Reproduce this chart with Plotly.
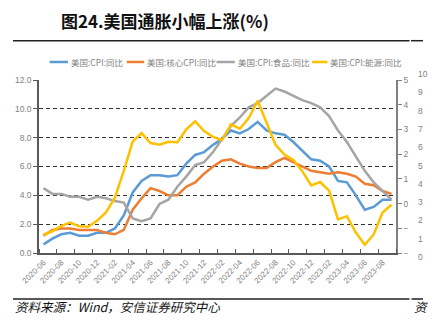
import plotly.graph_objects as go

# Monthly categories, 2020-06 .. 2023-09
months = [f"{y}-{m:02d}" for y, m in
          [(2020, m) for m in range(6, 13)] +
          [(2021, m) for m in range(1, 13)] +
          [(2022, m) for m in range(1, 13)] +
          [(2023, m) for m in range(1, 10)]]

series_names = ["美国:CPI:同比", "美国:核心CPI:同比", "美国:CPI:食品:同比", "美国:CPI:能源:同比"]

cpi = [0.6, 1.0, 1.3, 1.4, 1.2, 1.2, 1.4,
       1.4, 1.7, 2.6, 4.2, 5.0, 5.4, 5.4, 5.3, 5.4, 6.2, 6.8, 7.0,
       7.5, 7.9, 8.5, 8.3, 8.6, 9.1, 8.5, 8.3, 8.2, 7.7, 7.1, 6.5,
       6.4, 6.0, 5.0, 4.9, 4.0, 3.0, 3.2, 3.7, 3.7]
core = [1.2, 1.6, 1.7, 1.7, 1.6, 1.6, 1.6,
        1.4, 1.3, 1.6, 3.0, 3.8, 4.5, 4.3, 4.0, 4.0, 4.6, 4.9, 5.5,
        6.0, 6.4, 6.5, 6.2, 6.0, 5.9, 5.9, 6.3, 6.6, 6.3, 6.0, 5.7,
        5.6, 5.5, 5.6, 5.5, 5.3, 4.8, 4.7, 4.3, 4.1]
food = [4.5, 4.1, 4.1, 3.9, 3.9, 3.7, 3.9,
        3.8, 3.6, 3.5, 2.4, 2.2, 2.4, 3.4, 3.7, 4.6, 5.3, 6.1, 6.3,
        7.0, 7.9, 8.8, 9.4, 10.1, 10.4, 10.9, 11.4, 11.2, 10.9, 10.6, 10.4,
        10.1, 9.5, 8.5, 7.7, 6.7, 5.7, 4.9, 4.3, 3.7]
energy = [-12.6, -11.2, -9.0, -7.7, -9.2, -9.4, -7.0,
          -3.6, 2.4, 13.2, 25.1, 28.5, 24.5, 23.8, 25.0, 24.8, 30.0, 33.3, 29.3,
          27.0, 25.6, 32.0, 30.3, 34.6, 41.6, 32.9, 23.8, 19.8, 17.6, 13.1, 7.3,
          8.7, 5.2, -6.4, -5.1, -11.7, -16.7, -12.5, -3.6, -0.5]

colors = ["#5B9BD5", "#ED7D31", "#A5A5A5", "#FFC000"]

# neighbouring panel's axis labels visible at the right edge
edge_labels = ["10", "9", "8", "7", "6", "5", "4", "3", "2", "1", "0"]

idx = list(range(len(months)))
W, H = 437, 325
L, R, T, B = 39, 409, 80, 253


def px(x):
    return (x - L) / (R - L)


def py(y):
    return (B - y) / (B - T)


fig = go.Figure()
for vals, name, col in zip([cpi, core, food], series_names[:3], colors[:3]):
    fig.add_trace(go.Scatter(x=idx, y=vals, name=name, mode="lines",
                             line=dict(color=col, width=2.5), showlegend=False))
fig.add_trace(go.Scatter(x=idx, y=energy, name=series_names[3], mode="lines",
                         line=dict(color=colors[3], width=2.5), yaxis="y2",
                         showlegend=False))

tick_font = dict(family="Liberation Sans, Arial", size=8.5, color="#7f7f7f")
cjk = "Noto Sans CJK SC"

fig.update_layout(
    width=W, height=H,
    margin=dict(l=L, r=W - R, t=T, b=H - B),
    paper_bgcolor="white", plot_bgcolor="white",
    xaxis=dict(range=[-0.5, len(months) - 0.5],
               tickvals=idx[::2], ticktext=months[::2],
               tickangle=-45, tickfont=dict(family="Liberation Sans, Arial", size=8, color="#7f7f7f"),
               ticks="", showgrid=False, zeroline=False,
               showline=True, linecolor="#595959", linewidth=1.5,
               minor=dict(tick0=-0.5, dtick=2, ticks="inside", ticklen=4,
                          tickcolor="#595959", showgrid=False)),
    yaxis=dict(range=[0, 12], dtick=2, tickformat=".1f", tickfont=tick_font,
               ticks="outside", ticklen=4, tickcolor="#595959",
               showline=True, linecolor="#595959", linewidth=1.5,
               showgrid=True, gridcolor="#333333", gridwidth=1, griddash="4px,3px",
               zeroline=False),
    yaxis2=dict(range=[-20, 50], dtick=10, tickformat=".1f", tickfont=tick_font,
                overlaying="y", side="right", ticks="outside", ticklen=4,
                tickcolor="#808080", showline=True, linecolor="#808080", linewidth=1.5,
                showgrid=False, zeroline=False),
)

shapes = []
annotations = []

# title and rules
annotations.append(dict(text="<b>图24.美国通胀小幅上涨(%)</b>", x=px(60), y=py(20.5),
                        xref="paper", yref="paper", xanchor="left", yanchor="middle",
                        showarrow=False, font=dict(family=cjk, size=17, color="#111111")))
shapes.append(dict(type="line", xref="paper", yref="paper", x0=px(12), x1=px(423),
                   y0=py(40.7), y1=py(40.7), line=dict(color="#222222", width=1.5)))
shapes.append(dict(type="line", xref="paper", yref="paper", x0=px(424.5), x1=px(437),
                   y0=py(40.7), y1=py(40.7), line=dict(color="#222222", width=1.5)))

# legend
legend_pos = [(50, 69, 70), (130, 148, 149), (223, 242, 243), (322, 338, 339)]
for (x0, x1, xt), name, col in zip(legend_pos, series_names, colors):
    shapes.append(dict(type="line", xref="paper", yref="paper", x0=px(x0), x1=px(x1),
                       y0=py(62), y1=py(62), line=dict(color=col, width=2.5)))
    annotations.append(dict(text=name, x=px(xt), y=py(62), xref="paper", yref="paper",
                            xanchor="left", yanchor="middle", showarrow=False,
                            font=dict(family=cjk, size=8.5, color="#7f7f7f")))

# clip right-axis labels at the panel edge
shapes.append(dict(type="rect", xref="paper", yref="paper", x0=px(421.5), x1=px(440),
                   y0=py(66), y1=py(262), fillcolor="white", line=dict(width=0),
                   layer="above"))
for i, lab in enumerate(edge_labels):
    annotations.append(dict(text=lab, x=px(429.5), y=py(74 + i * 18.3), xref="paper",
                            yref="paper", xanchor="left", yanchor="middle", showarrow=False,
                            font=dict(family="Liberation Sans, Arial", size=8.5, color="#7f7f7f")))

# source line
shapes.append(dict(type="line", xref="paper", yref="paper", x0=px(12), x1=px(423),
                   y0=py(299), y1=py(299), line=dict(color="#222222", width=1.5)))
shapes.append(dict(type="line", xref="paper", yref="paper", x0=px(425), x1=px(437),
                   y0=py(299), y1=py(299), line=dict(color="#222222", width=1.5)))
annotations.append(dict(text="资料来源：Wind，安信证券研究中心", x=px(12), y=py(306.5),
                        xref="paper", yref="paper", xanchor="left", yanchor="middle",
                        showarrow=False,
                        font=dict(family=cjk, size=12.5, color="#111111", style="italic")))
annotations.append(dict(text="资", x=px(426), y=py(306.5), xref="paper", yref="paper",
                        xanchor="left", yanchor="middle", showarrow=False,
                        font=dict(family=cjk, size=12.5, color="#111111", style="italic")))

fig.update_layout(shapes=shapes, annotations=annotations)
fig.write_html("out.html")
